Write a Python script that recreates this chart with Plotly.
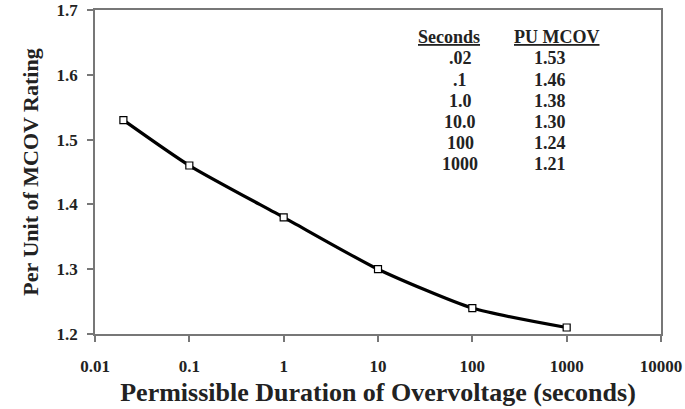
import plotly.graph_objects as go

seconds = [0.02, 0.1, 1, 10, 100, 1000]
pu_mcov = [1.53, 1.46, 1.38, 1.30, 1.24, 1.21]
table_seconds = [".02", ".1", "1.0", "10.0", "100", "1000"]
table_pu = ["1.53", "1.46", "1.38", "1.30", "1.24", "1.21"]
x_ticks = [0.01, 0.1, 1, 10, 100, 1000, 10000]
x_tick_text = ["0.01", "0.1", "1", "10", "100", "1000", "10000"]
y_ticks = [1.2, 1.3, 1.4, 1.5, 1.6, 1.7]
y_tick_text = ["1.2", "1.3", "1.4", "1.5", "1.6", "1.7"]

FONT = "Liberation Serif"
TXT = "#222222"

fig = go.Figure()
fig.add_trace(go.Scatter(
    x=seconds, y=pu_mcov, mode="lines+markers",
    line=dict(color="black", width=3.2, shape="spline", smoothing=0.6),
    marker=dict(symbol="square", size=7, color="white",
                line=dict(color="black", width=1.2)),
    showlegend=False,
))

axis_common = dict(
    showline=True, linecolor="#777777", linewidth=1.5, mirror=True,
    ticks="outside", ticklen=6, tickwidth=1.5, tickcolor="#777777",
    showgrid=False, zeroline=False, automargin=False,
    tickfont=dict(family=FONT, size=17, color=TXT),
)

fig.update_xaxes(
    type="log", range=[-2, 4], tickvals=x_ticks,
    ticktext=[f"<b>{t}</b>" for t in x_tick_text],
    title=dict(text="<b>Permissible Duration of Overvoltage (seconds)</b>",
               font=dict(family=FONT, size=26, color=TXT), standoff=8),
    ticklabelstandoff=10,
    **axis_common,
)
fig.update_yaxes(
    range=[1.2, 1.7], tickvals=y_ticks,
    ticktext=[f"<b>{t}</b>" for t in y_tick_text],
    title=dict(text="<b>Per Unit of MCOV Rating</b>",
               font=dict(family=FONT, size=22, color=TXT), standoff=12),
    ticklabelstandoff=6,
    **axis_common,
)

def px_x(px):
    return (px - 95) / (661 - 95)

def px_y(py):
    return 1 - (py - 10) / (334 - 10)

def add_text(px, py, text):
    fig.add_annotation(x=px_x(px), y=px_y(py), xref="paper", yref="paper",
                       xanchor="center", yanchor="middle",
                       text=text, showarrow=False,
                       font=dict(family=FONT, size=18, color=TXT))

add_text(449, 37, "<b><u>Seconds</u></b>")
add_text(556, 37, "<b><u>PU MCOV</u></b>")
row_y = [58, 80, 101, 122, 143, 164]
for s, p, ry in zip(table_seconds, table_pu, row_y):
    add_text(460, ry, f"<b>{s}</b>")
    add_text(550, ry, f"<b>{p}</b>")

fig.update_layout(
    width=685, height=409,
    margin=dict(l=95, r=24, t=10, b=75),
    paper_bgcolor="white", plot_bgcolor="white",
    font=dict(family=FONT, color=TXT),
)

fig.write_html("out.html")
